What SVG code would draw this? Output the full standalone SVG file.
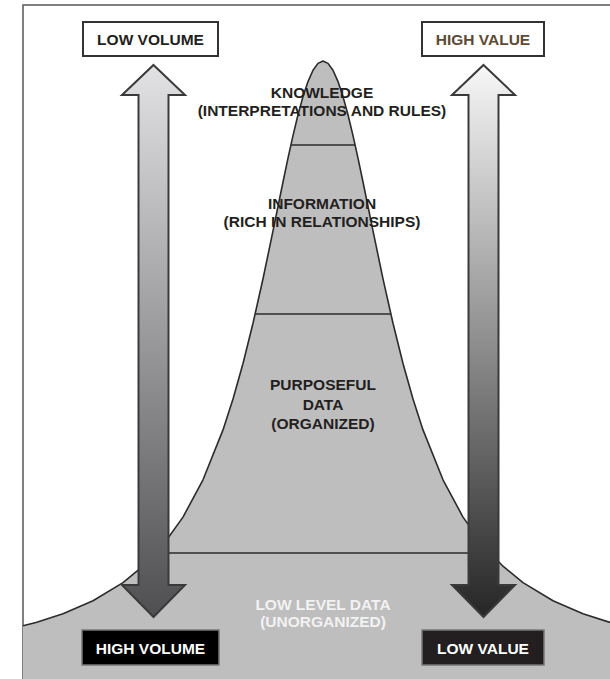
<svg xmlns="http://www.w3.org/2000/svg" width="610" height="679" viewBox="0 0 610 679">
<defs>
<linearGradient id="gl" x1="0" y1="65" x2="0" y2="617" gradientUnits="userSpaceOnUse">
<stop offset="0" stop-color="#e2e2e4"/>
<stop offset="1" stop-color="#4f4f52"/>
</linearGradient>
<linearGradient id="gr" x1="0" y1="65" x2="0" y2="617" gradientUnits="userSpaceOnUse">
<stop offset="0" stop-color="#f7f7f7"/>
<stop offset="1" stop-color="#262626"/>
</linearGradient>
</defs>
<style>
.t{font-family:"Liberation Sans",Arial,sans-serif;font-weight:bold;font-size:15.5px;text-anchor:middle;fill:#231f20}
.w{fill:#f2f2f2}
.sep{stroke:#2b2b2b;stroke-width:1.6;fill:none}
.arrow{stroke:#3a3a3a;stroke-width:2;stroke-linejoin:miter}
.box{fill:#ffffff;stroke:#333333;stroke-width:2}
.dbox{stroke:#777777;stroke-width:1.5}
</style>
<rect width="610" height="679" fill="#ffffff"/>
<g id="frame">
<path d="M23,679 L23,5 L610,5" fill="none" stroke="#555555" stroke-width="1.5"/>
</g>
<g id="bell">
<path d="M23,625.8 L36,622.4 L63,613.7 L93,600.7 L123,582.6 L143,566.2 L163,545 L183,517.1 L203,479.8 L223,429.9 L233,399 L243,363.5 L253,323.3 L263,278.8 L273,230.9 L283,182 L288,158.2 L293,135.6 L298,114.8 L303,96.6 L308,81.6 L313,70.3 L318,63.4 L323,61 L328,63.4 L333,70.3 L338,81.6 L343,96.6 L348,114.8 L353,135.6 L358,158.2 L363,182 L373,230.9 L383,278.8 L393,323.3 L403,363.5 L413,399 L423,429.9 L443,479.8 L463,517.1 L483,545 L503,566.2 L523,582.6 L553,600.7 L583,613.7 L610,622.4 L610,679 L23,679 Z" fill="#bebebe" stroke="none"/>
<path d="M23,625.8 L36,622.4 L63,613.7 L93,600.7 L123,582.6 L143,566.2 L163,545 L183,517.1 L203,479.8 L223,429.9 L233,399 L243,363.5 L253,323.3 L263,278.8 L273,230.9 L283,182 L288,158.2 L293,135.6 L298,114.8 L303,96.6 L308,81.6 L313,70.3 L318,63.4 L323,61 L328,63.4 L333,70.3 L338,81.6 L343,96.6 L348,114.8 L353,135.6 L358,158.2 L363,182 L373,230.9 L383,278.8 L393,323.3 L403,363.5 L413,399 L423,429.9 L443,479.8 L463,517.1 L483,545 L503,566.2 L523,582.6 L553,600.7 L583,613.7 L610,622.4" fill="none" stroke="#2b2b2b" stroke-width="1.6" stroke-linejoin="round"/>
<line class="sep" x1="291" y1="145" x2="355" y2="145"/>
<line class="sep" x1="255.5" y1="314" x2="390.5" y2="314"/>
<line class="sep" x1="156" y1="553" x2="490" y2="553"/>
</g>
<g id="knowledge">
<text class="t" x="322" y="97.5">KNOWLEDGE</text>
<text class="t" x="322" y="115.5">(INTERPRETATIONS AND RULES)</text>
</g>
<g id="information">
<text class="t" x="322" y="208.5">INFORMATION</text>
<text class="t" x="322" y="226.5">(RICH IN RELATIONSHIPS)</text>
</g>
<g id="purposeful">
<text class="t" x="323" y="390">PURPOSEFUL</text>
<text class="t" x="323" y="410">DATA</text>
<text class="t" x="323" y="429">(ORGANIZED)</text>
</g>
<g id="lowlevel">
<text class="t w" x="323" y="610">LOW LEVEL DATA</text>
<text class="t w" x="323" y="627">(UNORGANIZED)</text>
</g>
<g id="connectors">
<path class="arrow" fill="url(#gl)" d="M153.5,65 L185,95 L168.5,95 L168.5,585 L185,585 L153.5,617 L122,585 L138.5,585 L138.5,95 L122,95 Z"/>
<path class="arrow" fill="url(#gr)" d="M483.5,65 L515,95 L498.5,95 L498.5,585 L515,585 L483.5,617 L452,585 L468.5,585 L468.5,95 L452,95 Z"/>
</g>
<g id="low-volume">
<rect class="box" x="83" y="22" width="135" height="34"/>
<text class="t" x="150.5" y="44.5">LOW VOLUME</text>
</g>
<g id="high-value">
<rect class="box" x="422" y="22" width="122" height="34"/>
<text class="t" x="483" y="44.5" style="fill:#5c4a32">HIGH VALUE</text>
</g>
<g id="high-volume">
<rect class="dbox" x="82" y="630" width="137" height="35" fill="#000000"/>
<text class="t" x="150.5" y="653.5" style="fill:#ffffff">HIGH VOLUME</text>
</g>
<g id="low-value">
<rect class="dbox" x="422" y="630" width="122" height="35" fill="#231f20"/>
<text class="t" x="483" y="653.5" style="fill:#ffffff">LOW VALUE</text>
</g>
</svg>
